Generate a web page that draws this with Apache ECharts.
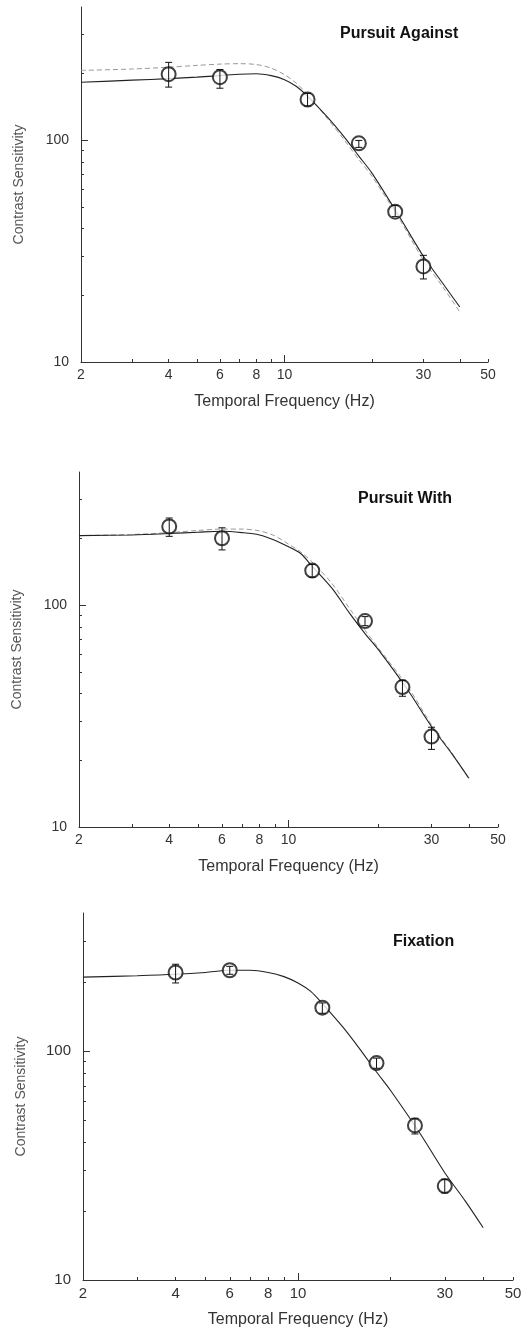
<!DOCTYPE html>
<html>
<head>
<meta charset="utf-8">
<title>Temporal contrast sensitivity</title>
<script src="https://cdn.jsdelivr.net/npm/echarts@6/dist/echarts.min.js"></script>
<style>
	html, body { margin: 0; padding: 0; background: #fff; }
	#chart { width: 528px; height: 1330px; }
</style>
</head>
<body>
<div id="chart"></div>
<script>
// measured points (Hz) and error bars
var freqs = [4, 6, 12, 18, 24, 30];

var againstMean = [199, 193, 153, 97, 47.7, 27];
var againstLow = [174, 172, 143, 93, 45.3, 23.7];
var againstHigh = [225, 209, 163, 100, 50.8, 30.3];

var withMean = [227, 201, 143.6, 85, 42.8, 25.6];
var withLow = [205, 178, 134, 81, 38.9, 22.4];
var withHigh = [248, 224, 153, 89, 45.9, 28.2];

var fixMean = [220, 225, 154.5, 88.5, 47.3, 25.7];
var fixLow = [198, 216, 146, 84, 43.4, 24];
var fixHigh = [239, 234, 162, 93, 50.8, 27.5];

// fitted curves
var fitFreqs = [2, 3, 4, 5, 6, 7, 8, 9, 10, 11, 12, 14, 16, 18, 20, 25, 30, 35, 40];
var againstFit = [183, 187, 190, 193, 196, 199, 200, 196, 188, 175, 158, 128, 104, 85, 71, 44.5, 30, 22.6, 17.7];
var againstFitDash = [207, 210, 214, 218, 221, 222, 220, 212, 198, 181, 161, 126, 101, 82, 68.7, 43.5, 28.8, 21.8, 16.8];
var withFit = [206.5, 208, 211, 214, 216, 213, 208, 197, 184, 171, 150, 119, 92, 74.6, 62.8, 41.5, 28.4, 21.5, 16.6];
var withFitDash = [206.5, 209, 213, 218, 221, 221, 217, 206, 189, 174, 157, 125, 96.6, 77.3, 63.9, 43, 28.9, 21.7, 16.4];
var fixFit = [210, 213, 216, 220, 225, 225, 220, 211, 198, 182, 161, 127, 100.6, 80.9, 67.2, 43.4, 29.4, 22.1, 16.9];

// ticks
var xTicks = [3, 4, 5, 6, 7, 8, 9, 20, 30, 40, 50];
var xLabels = [2, 4, 6, 8, 10, 30, 50];
var yTicks = [20, 30, 40, 50, 60, 70, 80, 90, 200, 300];
var yLabels = [10, 100];

var FONT = 'Liberation Sans';

var panels = [
	{ title: 'Pursuit Against', titleLeft: 340, titleTop: 26, grid: { left: 81, top: 7, width: 407, height: 355 }, labelSize: 14,
		mean: againstMean, low: againstLow, high: againstHigh, fit: againstFit, fitDash: againstFitDash },
	{ title: 'Pursuit With', titleLeft: 358, titleTop: 491, grid: { left: 79, top: 472, width: 419, height: 355 }, labelSize: 14,
		mean: withMean, low: withLow, high: withHigh, fit: withFit, fitDash: withFitDash },
	{ title: 'Fixation', titleLeft: 393, titleTop: 934, grid: { left: 83, top: 913, width: 430, height: 367 }, labelSize: 15,
		mean: fixMean, low: fixLow, high: fixHigh, fit: fixFit, fitDash: null }
];

function zip(a, b) {
	var out = [];
	for (var i = 0; i < a.length; i++) {
		out.push([a[i], b[i]]);
	}
	return out;
}

function renderErr(params, api) {
	var x = api.value(0);
	var top = api.coord([x, api.value(2)]);
	var bot = api.coord([x, api.value(1)]);
	var w = 3.5;
	var st = { stroke: '#111', lineWidth: 1 };
	return {
		type: 'group',
		children: [
			{ type: 'line', shape: { x1: top[0], y1: top[1], x2: bot[0], y2: bot[1] }, style: st },
			{ type: 'line', shape: { x1: top[0] - w, y1: top[1], x2: top[0] + w, y2: top[1] }, style: st },
			{ type: 'line', shape: { x1: bot[0] - w, y1: bot[1], x2: bot[0] + w, y2: bot[1] }, style: st }
		]
	};
}

var option = {
	animation: false,
	backgroundColor: '#fff',
	title: [],
	grid: [],
	xAxis: [],
	yAxis: [],
	series: []
};

for (var i = 0; i < panels.length; i++) {
	var p = panels[i];
	var ax = 2 * i;
	option.grid.push(p.grid);
	option.title.push({
		text: p.title, left: p.titleLeft, top: p.titleTop, padding: 0,
		textStyle: { fontFamily: FONT, fontSize: 16, fontWeight: 'bold', color: '#111' }
	});

	// main axes
	option.xAxis.push({
		type: 'log', gridIndex: i, min: 2, max: 50, position: 'bottom',
		name: 'Temporal Frequency (Hz)', nameLocation: 'middle', nameGap: 32,
		nameTextStyle: { fontFamily: FONT, fontSize: 16, color: '#333' },
		axisLine: { show: true, onZero: false, lineStyle: { color: '#333', width: 1 } },
		axisTick: { show: true, inside: true, length: 3, customValues: xTicks, lineStyle: { color: '#333' } },
		axisLabel: { customValues: xLabels, fontFamily: FONT, fontSize: p.labelSize, color: '#333', margin: 6,
			formatter: function(v) { return String(Math.round(v)); } },
		splitLine: { show: false }
	});
	option.yAxis.push({
		type: 'log', gridIndex: i, min: 10, max: 400, position: 'left',
		name: 'Contrast Sensitivity', nameLocation: 'middle', nameGap: 55,
		nameTextStyle: { fontFamily: FONT, fontSize: 14, color: '#555' },
		axisLine: { show: true, onZero: false, lineStyle: { color: '#333', width: 1 } },
		axisTick: { show: true, inside: true, length: 3, customValues: yTicks, lineStyle: { color: '#333' } },
		axisLabel: { customValues: yLabels, fontFamily: FONT, fontSize: p.labelSize, color: '#333', margin: 12,
			formatter: function(v) { return String(Math.round(v)); } },
		splitLine: { show: false }
	});
	// longer ticks at the decades
	option.xAxis.push({
		type: 'log', gridIndex: i, min: 2, max: 50, position: 'bottom',
		axisLine: { show: false },
		axisTick: { show: true, inside: true, length: 7, customValues: [10], lineStyle: { color: '#333' } },
		axisLabel: { show: false },
		splitLine: { show: false }
	});
	option.yAxis.push({
		type: 'log', gridIndex: i, min: 10, max: 400, position: 'left',
		axisLine: { show: false },
		axisTick: { show: true, inside: true, length: 7, customValues: [100], lineStyle: { color: '#333' } },
		axisLabel: { show: false },
		splitLine: { show: false }
	});

	if (p.fitDash) {
		option.series.push({
			type: 'line', xAxisIndex: ax, yAxisIndex: ax, data: zip(fitFreqs, p.fitDash),
			showSymbol: false, smooth: 0.3, silent: true,
			lineStyle: { color: '#999', width: 1, type: [5, 3] }
		});
	}
	option.series.push({
		type: 'line', xAxisIndex: ax, yAxisIndex: ax, data: zip(fitFreqs, p.fit),
		showSymbol: false, smooth: 0.3, silent: true,
		lineStyle: { color: '#222', width: 1.1 }
	});
	option.series.push({
		type: 'scatter', xAxisIndex: ax, yAxisIndex: ax, data: zip(freqs, p.mean),
		symbol: 'emptyCircle', symbolSize: 14, z: 3,
		itemStyle: { color: '#111', borderColor: '#111', borderWidth: 1.3 }
	});
	var errData = [];
	for (var k = 0; k < freqs.length; k++) {
		errData.push([freqs[k], p.low[k], p.high[k]]);
	}
	option.series.push({
		type: 'custom', xAxisIndex: ax, yAxisIndex: ax, data: errData,
		renderItem: renderErr, encode: { x: 0, y: [1, 2] }, z: 4, silent: true
	});
}

var myChart = echarts.init(document.getElementById('chart'));
myChart.setOption(option);
</script>
</body>
</html>
